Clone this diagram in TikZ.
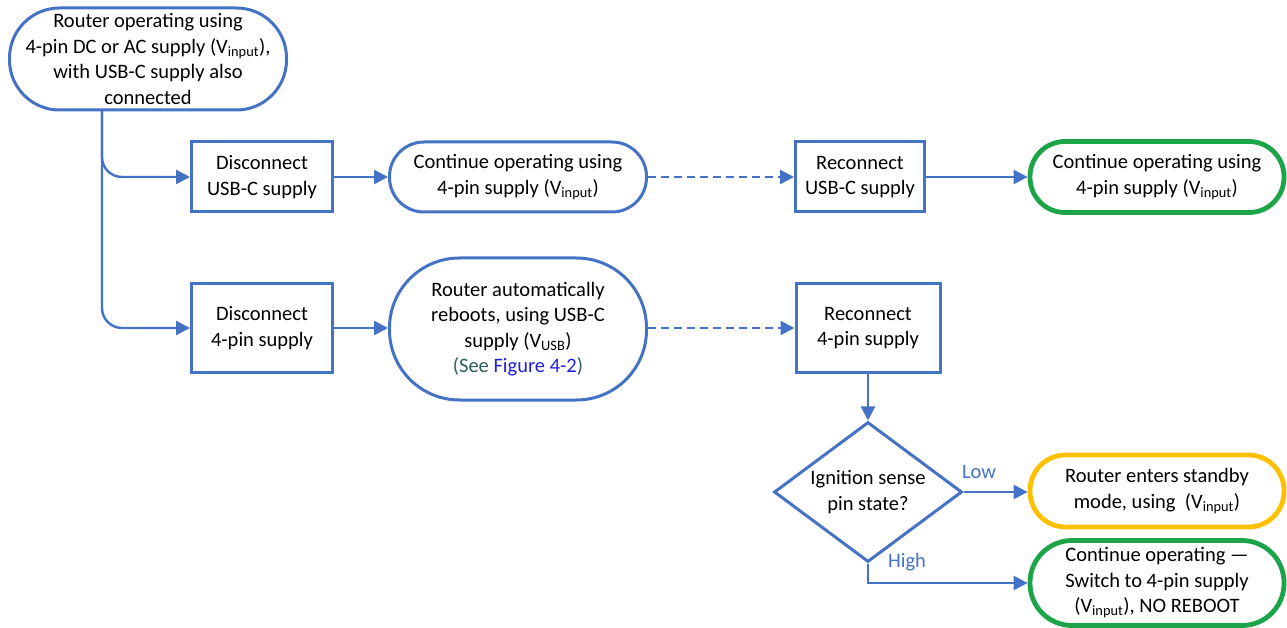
\documentclass[tikz,border=0pt]{standalone}
\usepackage{fontspec}
\setmainfont{Carlito}
\usetikzlibrary{arrows.meta,shapes.geometric}
\definecolor{lblue}{HTML}{4472C4}
\definecolor{lgreen}{HTML}{1BA548}
\definecolor{lyellow}{HTML}{FFC000}
\definecolor{teal2}{HTML}{2E5C5C}
\definecolor{linkblue}{HTML}{1F1FE0}
\newcommand{\Vsub}[1]{V\textsubscript{#1}}
\tikzset{
  txt/.style={font=\fontsize{20.5}{25.5}\selectfont, align=center, text=black},
  box/.style={txt, draw=lblue, line width=3pt, rectangle, inner sep=0pt},
  stad/.style={txt, draw=lblue, line width=3pt, rectangle, inner sep=0pt},
  goodend/.style={stad, draw=lgreen, line width=4.8pt},
  warnend/.style={stad, draw=lyellow, line width=4.8pt},
  conn/.style={draw=lblue, line width=2.4pt, -{Triangle[length=14pt,width=14pt]}},
  dconn/.style={conn, dash pattern=on 8pt off 5pt},
  lbl/.style={font=\fontsize{20.5}{22}\selectfont, text=lblue}
}
\begin{document}
\begin{tikzpicture}[x=1pt,y=-1pt]
\useasboundingbox (0,0) rectangle (1287,628);
\node[stad, rounded corners=50pt, minimum width=277pt, minimum height=102pt] (start) at (148,59)
  {Router operating using\\4-pin DC or AC supply (\Vsub{input}),\\with USB-C supply also\\connected};
\node[box, minimum width=141pt, minimum height=70pt] (d1) at (262,177) {Disconnect\\USB-C supply};
\node[stad, rounded corners=34.5pt, minimum width=257pt, minimum height=70pt] (c1) at (518,177) {Continue operating using\\4-pin supply (\Vsub{input})};
\node[box, minimum width=129pt, minimum height=70pt] (r1) at (860,177) {Reconnect\\USB-C supply};
\node[goodend, rounded corners=35pt, minimum width=254pt, minimum height=71pt] (g1) at (1157,177) {Continue operating using\\4-pin supply (\Vsub{input})};

\node[box, minimum width=141pt, minimum height=89pt] (d2) at (262,328) {Disconnect\\4-pin supply};
\node[stad, rounded corners=70pt, minimum width=257pt, minimum height=142pt] (c2) at (518,329)
  {Router automatically\\reboots, using USB-C\\supply (\Vsub{USB})\\{\color{teal2}(See \textcolor{linkblue}{Figure 4-2})}};
\node[box, minimum width=144pt, minimum height=89pt] (r2) at (868,328) {Reconnect\\4-pin supply};
\node[txt, draw=lblue, line width=3pt, diamond, inner sep=0pt, aspect=1.34, minimum width=188pt, minimum height=140pt] (dia) at (868,492) {Ignition sense\\pin state?};
\node[warnend, rounded corners=35.5pt, minimum width=254pt, minimum height=72pt] (y1) at (1157,491) {Router enters standby\\mode, using~~(\Vsub{input})};
\node[goodend, rounded corners=42pt, minimum width=254pt, minimum height=85pt] (g2) at (1157,583) {Continue operating ---\\Switch to 4-pin supply\\(\Vsub{input}), NO REBOOT};

\coordinate (tap) at (102,110);
\draw[conn, rounded corners=20pt] (tap) |- (d1.west);
\draw[conn, rounded corners=20pt] (tap) |- (d2.west);
\draw[conn] (d1) -- (c1);
\draw[dconn] (c1) -- (r1);
\draw[conn] (r1) -- (g1);
\draw[conn] (d2.east) -- (d2.east -| c2.west);
\draw[dconn] (c2.east |- r2.west) -- (r2.west);
\draw[conn] (r2) -- (dia);
\draw[conn] (dia.east) -- (y1.west |- dia.east);
\draw[conn] (dia.south) |- (g2.west);
\node[lbl] (low) at (979,472) {Low};
\node[lbl] (high) at (907,562) {High};
\end{tikzpicture}
\end{document}
